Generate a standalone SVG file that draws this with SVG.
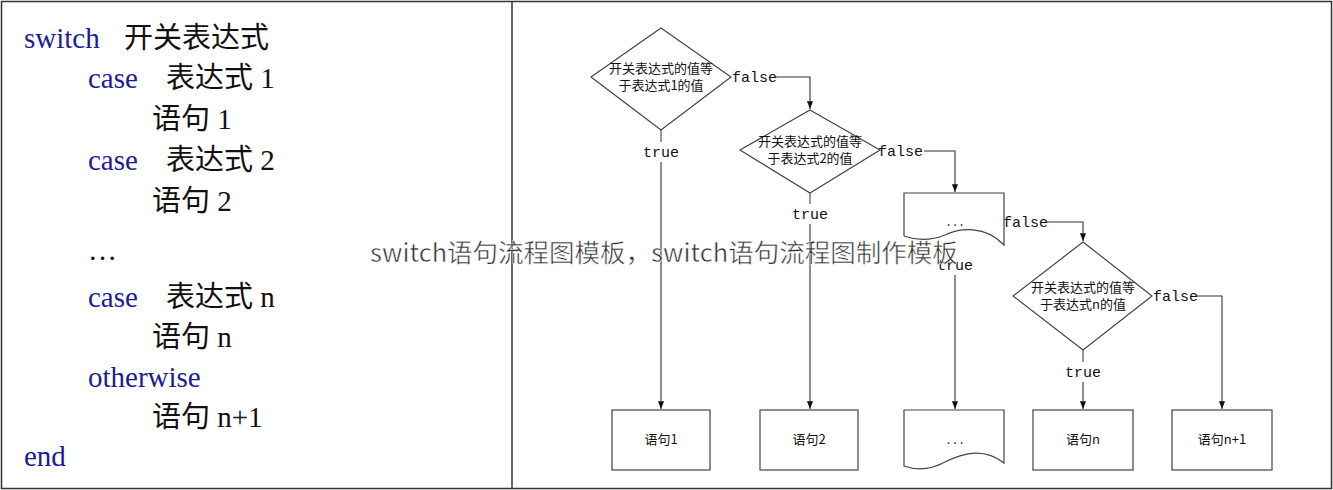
<svg xmlns="http://www.w3.org/2000/svg" width="1333" height="490" viewBox="0 0 1333 490">
<defs>
<marker id="a" viewBox="0 0 10 10" refX="10" refY="5" markerWidth="7" markerHeight="7" orient="auto"><path d="M0,1 L10,5 L0,9 z" fill="#111"/></marker>
<style>
.k{fill:#1c1c96;font-family:"Liberation Serif","Noto Sans CJK SC",serif;font-size:29px}
.t{fill:#111;font-family:"Liberation Serif","Noto Sans CJK SC",serif;font-size:29px}
.s{fill:none;stroke:#444;stroke-width:1.2}
.c{fill:none;stroke:#333;stroke-width:1.1;marker-end:url(#a)}
.l{font-family:"Liberation Mono",monospace;font-size:15px;fill:#111}
.n{font-family:"Noto Sans CJK SC",sans-serif;font-size:13px;fill:#111;text-anchor:middle}
</style>
</defs>
<rect x="1.5" y="1.5" width="1330" height="487" fill="#fff" stroke="#333" stroke-width="1.5"/>
<line x1="512" y1="1.5" x2="512" y2="488" stroke="#333" stroke-width="1.5"/>
<g id="code">
<text x="24" y="48" class="k">switch</text><text x="124" y="48" class="t">开关表达式</text>
<text x="88" y="88" class="k">case</text><text x="166" y="88" class="t">表达式 1</text>
<text x="152" y="129" class="t">语句 1</text>
<text x="88" y="170" class="k">case</text><text x="166" y="170" class="t">表达式 2</text>
<text x="152" y="211" class="t">语句 2</text>
<text x="88" y="260" class="t">…</text>
<text x="88" y="307" class="k">case</text><text x="166" y="307" class="t">表达式 n</text>
<text x="152" y="347" class="t">语句 n</text>
<text x="88" y="387" class="k">otherwise</text>
<text x="152" y="427" class="t">语句 n+1</text>
<text x="24" y="466" class="k">end</text>
</g>
<g id="connectors">
<path class="c" d="M776,77 H810 V109"/>
<path class="c" d="M661,162 V409"/>
<path class="c" d="M924,151 H955 V192"/>
<path class="c" d="M810,224 V409"/>
<path class="c" d="M1047,222 H1083 V241"/>
<path class="c" d="M955,275 V409"/>
<path class="c" d="M1197,296 H1222 V409"/>
<path class="c" d="M1083,382 V409"/>
<line x1="661" y1="130" x2="661" y2="142" stroke="#333"/>
<line x1="810" y1="193" x2="810" y2="204" stroke="#333"/>
<line x1="1083" y1="350" x2="1083" y2="362" stroke="#333"/>
<text x="732" y="82" class="l">false</text>
<text x="643" y="157" class="l">true</text>
<text x="878" y="156" class="l">false</text>
<text x="792" y="219" class="l">true</text>
<text x="1003" y="227" class="l">false</text>
<text x="937" y="270" class="l" fill="#888">true</text>
<text x="1153" y="301" class="l">false</text>
<text x="1065" y="377" class="l">true</text>
</g>
<g id="d1"><polygon class="s" points="661,28 731,77 661,130 591,77"/><text x="661" y="73" class="n">开关表达式的值等</text><text x="661" y="90" class="n">于表达式1的值</text></g>
<g id="d2"><polygon class="s" points="810,110 880,150 810,193 740,150"/><text x="810" y="146" class="n">开关表达式的值等</text><text x="810" y="163" class="n">于表达式2的值</text></g>
<g id="doc1"><path class="s" d="M904,236 V193 H1004 V245 C985,225 960,228 945,235 C930,241 915,240 904,236"/><text x="955" y="226" class="n">. . .</text></g>
<g id="dn"><polygon class="s" points="1083,242 1152,296 1083,350 1013,296"/><text x="1083" y="292" class="n">开关表达式的值等</text><text x="1083" y="309" class="n">于表达式n的值</text></g>
<g id="b1"><rect class="s" x="612" y="410" width="98" height="60"/><text x="661" y="444" class="n">语句1</text></g>
<g id="b2"><rect class="s" x="760" y="410" width="98" height="60"/><text x="809" y="444" class="n">语句2</text></g>
<g id="doc2"><path class="s" d="M904,410 H1004 V463 C985,448 965,452 945,462 C930,470 915,470 904,466 Z"/><text x="955" y="444" class="n">. . .</text></g>
<g id="bn"><rect class="s" x="1033" y="410" width="100" height="60"/><text x="1083" y="444" class="n">语句n</text></g>
<g id="bn1"><rect class="s" x="1172" y="410" width="100" height="60"/><text x="1222" y="444" class="n">语句n+1</text></g>
<text x="370" y="262" font-family="'Noto Sans CJK SC',sans-serif" font-size="25.5" fill="#333" stroke="#fff" stroke-width="0.5">switch语句流程图模板，switch语句流程图制作模板</text>
</svg>
